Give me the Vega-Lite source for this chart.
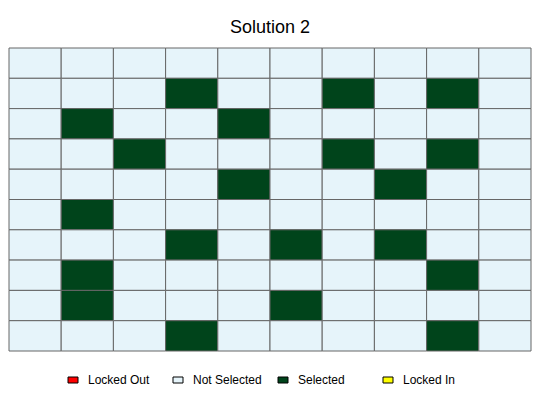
{
  "$schema": "https://vega.github.io/schema/vega-lite/v6.json",
  "width": 522,
  "height": 303,
  "autosize": "none",
  "padding": {"left": 9, "top": 48, "right": 9, "bottom": 49},
  "background": "white",
  "title": {"text": "Solution 2", "fontSize": 18, "font": "Liberation Sans", "fontWeight": "normal", "color": "black", "offset": 11},
  "config": {"view": {"stroke": null}},
  "data": {"values": [
    {"r":0,"c":0,"s":"Not Selected"},{"r":0,"c":1,"s":"Not Selected"},{"r":0,"c":2,"s":"Not Selected"},{"r":0,"c":3,"s":"Not Selected"},{"r":0,"c":4,"s":"Not Selected"},{"r":0,"c":5,"s":"Not Selected"},{"r":0,"c":6,"s":"Not Selected"},{"r":0,"c":7,"s":"Not Selected"},{"r":0,"c":8,"s":"Not Selected"},{"r":0,"c":9,"s":"Not Selected"},
    {"r":1,"c":0,"s":"Not Selected"},{"r":1,"c":1,"s":"Not Selected"},{"r":1,"c":2,"s":"Not Selected"},{"r":1,"c":3,"s":"Selected"},{"r":1,"c":4,"s":"Not Selected"},{"r":1,"c":5,"s":"Not Selected"},{"r":1,"c":6,"s":"Selected"},{"r":1,"c":7,"s":"Not Selected"},{"r":1,"c":8,"s":"Selected"},{"r":1,"c":9,"s":"Not Selected"},
    {"r":2,"c":0,"s":"Not Selected"},{"r":2,"c":1,"s":"Selected"},{"r":2,"c":2,"s":"Not Selected"},{"r":2,"c":3,"s":"Not Selected"},{"r":2,"c":4,"s":"Selected"},{"r":2,"c":5,"s":"Not Selected"},{"r":2,"c":6,"s":"Not Selected"},{"r":2,"c":7,"s":"Not Selected"},{"r":2,"c":8,"s":"Not Selected"},{"r":2,"c":9,"s":"Not Selected"},
    {"r":3,"c":0,"s":"Not Selected"},{"r":3,"c":1,"s":"Not Selected"},{"r":3,"c":2,"s":"Selected"},{"r":3,"c":3,"s":"Not Selected"},{"r":3,"c":4,"s":"Not Selected"},{"r":3,"c":5,"s":"Not Selected"},{"r":3,"c":6,"s":"Selected"},{"r":3,"c":7,"s":"Not Selected"},{"r":3,"c":8,"s":"Selected"},{"r":3,"c":9,"s":"Not Selected"},
    {"r":4,"c":0,"s":"Not Selected"},{"r":4,"c":1,"s":"Not Selected"},{"r":4,"c":2,"s":"Not Selected"},{"r":4,"c":3,"s":"Not Selected"},{"r":4,"c":4,"s":"Selected"},{"r":4,"c":5,"s":"Not Selected"},{"r":4,"c":6,"s":"Not Selected"},{"r":4,"c":7,"s":"Selected"},{"r":4,"c":8,"s":"Not Selected"},{"r":4,"c":9,"s":"Not Selected"},
    {"r":5,"c":0,"s":"Not Selected"},{"r":5,"c":1,"s":"Selected"},{"r":5,"c":2,"s":"Not Selected"},{"r":5,"c":3,"s":"Not Selected"},{"r":5,"c":4,"s":"Not Selected"},{"r":5,"c":5,"s":"Not Selected"},{"r":5,"c":6,"s":"Not Selected"},{"r":5,"c":7,"s":"Not Selected"},{"r":5,"c":8,"s":"Not Selected"},{"r":5,"c":9,"s":"Not Selected"},
    {"r":6,"c":0,"s":"Not Selected"},{"r":6,"c":1,"s":"Not Selected"},{"r":6,"c":2,"s":"Not Selected"},{"r":6,"c":3,"s":"Selected"},{"r":6,"c":4,"s":"Not Selected"},{"r":6,"c":5,"s":"Selected"},{"r":6,"c":6,"s":"Not Selected"},{"r":6,"c":7,"s":"Selected"},{"r":6,"c":8,"s":"Not Selected"},{"r":6,"c":9,"s":"Not Selected"},
    {"r":7,"c":0,"s":"Not Selected"},{"r":7,"c":1,"s":"Selected"},{"r":7,"c":2,"s":"Not Selected"},{"r":7,"c":3,"s":"Not Selected"},{"r":7,"c":4,"s":"Not Selected"},{"r":7,"c":5,"s":"Not Selected"},{"r":7,"c":6,"s":"Not Selected"},{"r":7,"c":7,"s":"Not Selected"},{"r":7,"c":8,"s":"Selected"},{"r":7,"c":9,"s":"Not Selected"},
    {"r":8,"c":0,"s":"Not Selected"},{"r":8,"c":1,"s":"Selected"},{"r":8,"c":2,"s":"Not Selected"},{"r":8,"c":3,"s":"Not Selected"},{"r":8,"c":4,"s":"Not Selected"},{"r":8,"c":5,"s":"Selected"},{"r":8,"c":6,"s":"Not Selected"},{"r":8,"c":7,"s":"Not Selected"},{"r":8,"c":8,"s":"Not Selected"},{"r":8,"c":9,"s":"Not Selected"},
    {"r":9,"c":0,"s":"Not Selected"},{"r":9,"c":1,"s":"Not Selected"},{"r":9,"c":2,"s":"Not Selected"},{"r":9,"c":3,"s":"Selected"},{"r":9,"c":4,"s":"Not Selected"},{"r":9,"c":5,"s":"Not Selected"},{"r":9,"c":6,"s":"Not Selected"},{"r":9,"c":7,"s":"Not Selected"},{"r":9,"c":8,"s":"Selected"},{"r":9,"c":9,"s":"Not Selected"}
  ]},
  "mark": {"type": "rect", "stroke": "#666666", "strokeWidth": 1},
  "encoding": {
    "x": {"field": "c", "type": "ordinal", "axis": null, "scale": {"paddingInner": 0, "paddingOuter": 0}},
    "y": {"field": "r", "type": "ordinal", "axis": null, "scale": {"paddingInner": 0, "paddingOuter": 0}},
    "fill": {
      "field": "s", "type": "nominal",
      "scale": {"domain": ["Locked Out", "Not Selected", "Selected", "Locked In"], "range": ["#FF0000", "#E6F4FA", "#00441B", "#FFFF00"]},
      "legend": {
        "title": null, "orient": "none", "direction": "horizontal", "columns": 4, "gridAlign": "all",
        "legendX": 58, "legendY": 326, "columnPadding": 14,
        "symbolType": "M-1,-0.6H1V0.6H-1Z", "symbolSize": 100, "symbolStrokeColor": "black", "symbolStrokeWidth": 1,
        "labelFont": "Liberation Sans", "labelFontSize": 12, "labelColor": "black", "labelOffset": 9
      }
    }
  }
}
